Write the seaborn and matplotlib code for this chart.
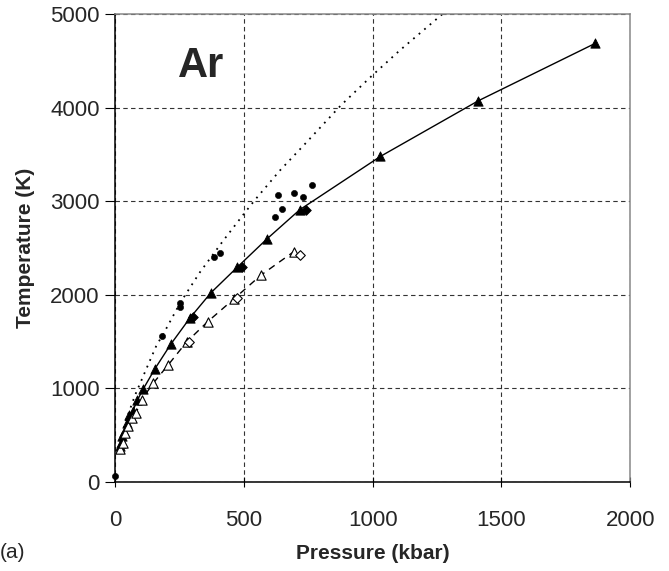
import matplotlib
matplotlib.use("Agg")
import matplotlib.pyplot as plt
import seaborn as sns
import pandas as pd

# Solid triangles, solid line
p_tri = [20, 22, 27, 35, 45, 55, 69, 86, 110, 155, 217, 291, 372, 475, 588, 717, 1030, 1411, 1865]
t_tri = [380, 415, 486, 539, 629, 718, 761, 871, 997, 1211, 1475, 1754, 2022, 2297, 2594, 2910, 3480, 4076, 4690]

# Filled diamonds beside solid triangles
p_fdia = [303, 494, 740]
t_fdia = [1765, 2297, 2910]

# Open triangles, dashed line
p_otri = [19, 30, 39, 52, 65, 81, 103, 149, 207, 278, 359, 462, 566, 694]
t_otri = [350, 421, 522, 600, 683, 736, 879, 1058, 1254, 1497, 1712, 1958, 2210, 2462]

# Open diamonds beside open triangles
p_odia = [288, 475, 719]
t_odia = [1493, 1969, 2426]

# Scattered experimental points (filled circles)
p_dot = [0, 182, 254, 254, 385, 409, 619, 647, 633, 694, 731, 766]
t_dot = [60, 1557, 1908, 1872, 2408, 2444, 2837, 2919, 3065, 3094, 3051, 3176]

# Dotted curve
p_dotted = [15, 25, 40, 78, 120, 161, 187, 254, 329, 420, 497, 543, 640, 734, 878, 995, 1105, 1270]
t_dotted = [350, 480, 640, 930, 1200, 1461, 1580, 1920, 2240, 2580, 2855, 3015, 3330, 3604, 4030, 4337, 4613, 5000]

x_ticks = [0, 500, 1000, 1500, 2000]
y_ticks = [0, 1000, 2000, 3000, 4000, 5000]

sns.set_theme(style="white")
plt.rcParams['font.family'] = ['Liberation Sans', 'DejaVu Sans']

fig = plt.figure(figsize=(6.69, 5.71), dpi=100)
ax = fig.add_axes([0.172, 0.156, 0.770, 0.819])

df_tri = pd.DataFrame({"P": p_tri, "T": t_tri})
df_otri = pd.DataFrame({"P": p_otri, "T": t_otri})
df_dotted = pd.DataFrame({"P": p_dotted, "T": t_dotted})

sns.lineplot(data=df_dotted, x="P", y="T", ax=ax, color="black", lw=1.3,
             linestyle=(0, (1, 3)), sort=False, estimator=None)
sns.lineplot(data=df_tri, x="P", y="T", ax=ax, color="black", lw=1.0,
             sort=False, estimator=None)
sns.lineplot(data=df_otri, x="P", y="T", ax=ax, color="black", lw=1.0,
             linestyle=(0, (5, 4)), sort=False, estimator=None)

sns.scatterplot(x=p_tri, y=t_tri, ax=ax, marker="^", s=45, color="black",
                edgecolor="black", linewidth=0.6, zorder=5)
sns.scatterplot(x=p_fdia, y=t_fdia, ax=ax, marker="D", s=24, color="black",
                edgecolor="black", linewidth=0.6, zorder=5)
sns.scatterplot(x=p_otri, y=t_otri, ax=ax, marker="^", s=45, color="white",
                edgecolor="black", linewidth=0.8, zorder=5)
sns.scatterplot(x=p_odia, y=t_odia, ax=ax, marker="D", s=24, color="white",
                edgecolor="black", linewidth=0.8, zorder=5)
sns.scatterplot(x=p_dot, y=t_dot, ax=ax, marker="o", s=20, color="black",
                edgecolor="black", linewidth=0.4, zorder=5, clip_on=False)

ax.set_xlim(0, 2000)
ax.set_ylim(0, 5000)
ax.set_xticks(x_ticks)
ax.set_yticks(y_ticks)
ax.set_xticklabels([str(v) for v in x_ticks], fontsize=16)
ax.set_yticklabels([str(v) for v in y_ticks], fontsize=16)

ax.grid(True, linestyle=(0, (4, 3)), color="#333333", lw=0.8)
ax.set_axisbelow(True)

for s in ["left", "bottom"]:
    ax.spines[s].set_color("black")
    ax.spines[s].set_linewidth(1.1)
for s in ["top", "right"]:
    ax.spines[s].set_color("#888888")
    ax.spines[s].set_linewidth(1.1)

ax.tick_params(axis="y", direction="out", length=7, width=0.8, color="black", pad=4, left=True)
ax.tick_params(axis="x", direction="inout", length=7, width=0.8, color="black", pad=17, bottom=True)

ax.set_xlabel("Pressure (kbar)", fontsize=15, fontweight="bold", labelpad=9)
ax.set_ylabel("Temperature (K)", fontsize=15, fontweight="bold", labelpad=11)

ax.text(333, 4450, "Ar", fontsize=30, fontweight="bold", ha="center", va="center")
fig.text(0.0, 0.033, "(a)", fontsize=15, ha="left", va="center")

fig.savefig("out.png", dpi=100)
